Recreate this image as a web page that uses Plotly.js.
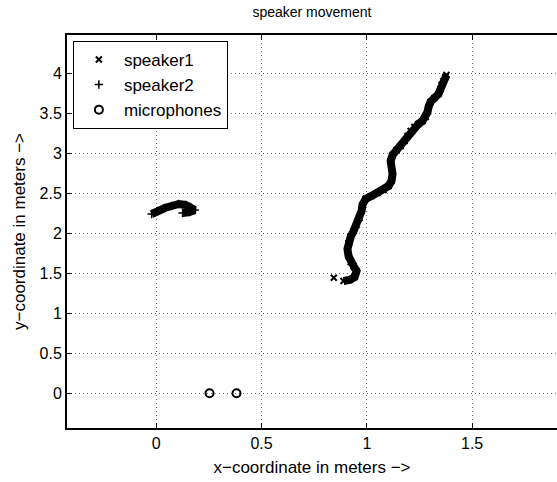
<!DOCTYPE html>
<html>
<head>
<meta charset="utf-8">
<script src="https://cdn.plot.ly/plotly-3.0.1.min.js"></script>
<style>html,body{margin:0;padding:0;background:#fff;}#chart{width:557px;height:482px;}</style>
</head>
<body>
<div id="chart"></div>
<script>
// speaker1: isolated start marker, then the wiggly path (null breaks the line)
const speaker1X = [0.843, null, 0.889, 0.918, 0.942, 0.951, 0.937, 0.923, 0.913, 0.908, 0.913, 0.923, 0.937, 0.951, 0.965, 0.975, 0.979, 0.994, 1.022, 1.051, 1.079, 1.103, 1.117, 1.122, 1.117, 1.113, 1.122, 1.141, 1.160, 1.179, 1.193, 1.208, 1.226, 1.245, 1.264, 1.279, 1.288, 1.293, 1.302, 1.321, 1.340, 1.350, 1.355, 1.364, 1.374, 1.378];
const speaker1Y = [1.445, null, 1.404, 1.416, 1.454, 1.529, 1.591, 1.641, 1.716, 1.804, 1.879, 1.954, 2.029, 2.104, 2.191, 2.279, 2.354, 2.429, 2.466, 2.504, 2.541, 2.591, 2.654, 2.741, 2.829, 2.904, 2.979, 3.041, 3.091, 3.154, 3.216, 3.279, 3.329, 3.366, 3.404, 3.454, 3.516, 3.579, 3.641, 3.691, 3.741, 3.804, 3.854, 3.904, 3.954, 3.979];
// speaker2: short curved path on the left
const speaker2X = [-0.022, 0.006, 0.040, 0.073, 0.106, 0.139, 0.163, 0.182, 0.158, 0.125];
const speaker2Y = [2.241, 2.279, 2.316, 2.341, 2.366, 2.354, 2.329, 2.291, 2.266, 2.254];
// microphones
const micX = [0.253, 0.381];
const micY = [0, 0];

const xTicks = [0, 0.5, 1, 1.5];
const xTickText = ['0', '0.5', '1', '1.5'];
const yTicks = [0, 0.5, 1, 1.5, 2, 2.5, 3, 3.5, 4];
const yTickText = ['0', '0.5', '1', '1.5', '2', '2.5', '3', '3.5', '4'];

const font = 'Liberation Sans, Arial, Helvetica, sans-serif';

const traces = [
  {x: speaker1X, y: speaker1Y, mode: 'lines', line: {color: '#000', width: 8}, showlegend: false, hoverinfo: 'skip', connectgaps: false},
  {x: speaker1X, y: speaker1Y, mode: 'markers', name: 'speaker1',
   marker: {symbol: 'x-thin-open', size: 6, color: '#000', line: {color: '#000', width: 2}}},
  {x: speaker2X, y: speaker2Y, mode: 'lines', line: {color: '#000', width: 8}, showlegend: false, hoverinfo: 'skip'},
  {x: speaker2X, y: speaker2Y, mode: 'markers', name: 'speaker2',
   marker: {symbol: 'cross-thin-open', size: 6, color: '#000', line: {color: '#000', width: 1.5}}},
  {x: micX, y: micY, mode: 'markers', name: 'microphones',
   marker: {symbol: 'circle-open', size: 8, color: '#000', line: {color: '#000', width: 2}}}
];

const layout = {
  width: 557, height: 482,
  margin: {l: 67, r: 0, t: 35, b: 54},
  paper_bgcolor: '#fff', plot_bgcolor: '#fff',
  font: {family: font, size: 16, color: '#000'},
  title: {text: 'speaker movement', font: {family: font, size: 14, color: '#000'}, x: 0.56, xanchor: 'center', y: 0.975, yanchor: 'middle'},
  xaxis: {
    range: [-0.424, 1.903], tickvals: xTicks, ticktext: xTickText,
    showline: true, linecolor: '#000', linewidth: 2, mirror: 'ticks',
    ticks: 'inside', ticklen: 5, tickwidth: 1, tickcolor: '#000',
    tickfont: {family: font, size: 16},
    showgrid: true, gridcolor: '#777', griddash: '1px,3px', gridwidth: 1,
    zeroline: false,
    title: {text: 'x\u2212coordinate in meters \u2212>', font: {family: font, size: 17}, standoff: 10}
  },
  yaxis: {
    range: [-0.434, 4.479], tickvals: yTicks, ticktext: yTickText,
    showline: true, linecolor: '#000', linewidth: 2, mirror: false,
    ticks: 'inside', ticklen: 5, tickwidth: 1, tickcolor: '#000',
    tickfont: {family: font, size: 16},
    showgrid: true, gridcolor: '#777', griddash: '1px,3px', gridwidth: 1,
    zeroline: false,
    title: {text: 'y\u2212coordinate in meters \u2212>', font: {family: font, size: 17}, standoff: 10}
  },
  legend: {
    x: 0.012, y: 0.985, xanchor: 'left', yanchor: 'top',
    bgcolor: '#fff', bordercolor: '#000', borderwidth: 1,
    font: {family: font, size: 17, color: '#000'},
    tracegroupgap: 0, itemwidth: 40
  },
  showlegend: true
};

Plotly.newPlot('chart', traces, layout, {displayModeBar: false, staticPlot: true});
</script>
</body>
</html>
